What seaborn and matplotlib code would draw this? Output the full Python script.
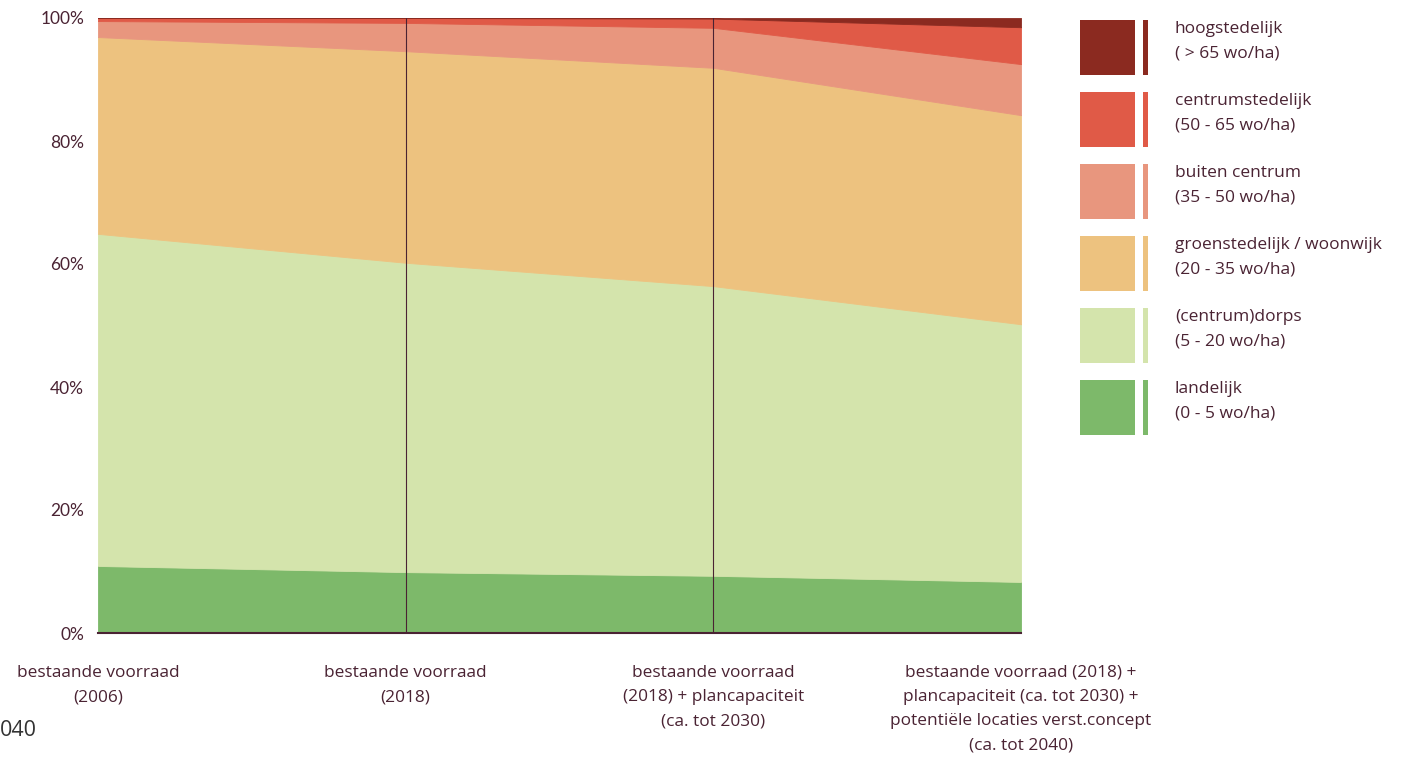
import matplotlib
matplotlib.use("Agg")
import matplotlib.pyplot as plt
import seaborn as sns
import pandas as pd
from matplotlib.patches import Rectangle

# scenario labels on the x axis
scenarios = [
    "bestaande voorraad\n(2006)",
    "bestaande voorraad\n(2018)",
    "bestaande voorraad\n(2018) + plancapaciteit\n(ca. tot 2030)",
    "bestaande voorraad (2018) +\nplancapaciteit (ca. tot 2030) +\npotentiële locaties verst.concept\n(ca. tot 2040)",
]

categories = ["landelijk", "(centrum)dorps", "groenstedelijk / woonwijk",
              "buiten centrum", "centrumstedelijk", "hoogstedelijk"]
ranges = ["(0 - 5 wo/ha)", "(5 - 20 wo/ha)", "(20 - 35 wo/ha)",
          "(35 - 50 wo/ha)", "(50 - 65 wo/ha)", "( > 65 wo/ha)"]

# share of dwellings (%) per density class
landelijk = [10.9, 9.9, 9.3, 8.3]
dorps = [54.0, 50.3, 47.1, 41.9]
groenstedelijk = [32.0, 34.4, 35.5, 34.0]
buiten_centrum = [2.6, 4.6, 6.5, 8.3]
centrumstedelijk = [0.5, 0.8, 1.5, 6.0]
hoogstedelijk = [0.0, 0.0, 0.1, 1.5]

colors = ["#7db96a", "#d4e4ac", "#edc27f", "#e8967e", "#e05a47", "#8b2a20"]
text_color = "#4a2333"

df = pd.DataFrame({
    "landelijk": landelijk,
    "(centrum)dorps": dorps,
    "groenstedelijk / woonwijk": groenstedelijk,
    "buiten centrum": buiten_centrum,
    "centrumstedelijk": centrumstedelijk,
    "hoogstedelijk": hoogstedelijk,
})

sns.set_theme(style="white")
plt.rcParams["font.family"] = ["Open Sans", "DejaVu Sans"]

W, H = 1414, 759
fig = plt.figure(figsize=(W / 100, H / 100), dpi=100)
ax = fig.add_axes([98 / W, 1 - 633 / H, (1021 - 98) / W, (633 - 18) / H])

x = list(range(len(scenarios)))
ax.stackplot(x, *[df[c] for c in categories], colors=colors,
             linewidth=0.6, edgecolor="face")

for xv in x[1:-1]:
    ax.axvline(xv, color=text_color, lw=0.8)

ax.set_xlim(0, len(scenarios) - 1)
ax.set_ylim(0, 100)
for s in ["top", "left", "right"]:
    ax.spines[s].set_visible(False)
ax.spines["bottom"].set_color(text_color)
ax.spines["bottom"].set_linewidth(1.5)

ax.set_yticks(range(0, 101, 20))
ax.set_yticklabels([f"{v}%" for v in range(0, 101, 20)], fontsize=12.5,
                   color=text_color, family=["Lato", "DejaVu Sans"])
ax.set_xticks(x)
ax.set_xticklabels(scenarios, fontsize=12.4, color=text_color, linespacing=1.68)
ax.tick_params(axis="y", length=0, pad=10)
ax.tick_params(axis="x", length=0, pad=23)

# legend drawn in pixel coordinates
lax = fig.add_axes([0, 0, 1, 1])
lax.set_xlim(0, W)
lax.set_ylim(H, 0)
lax.axis("off")
lax.patch.set_alpha(0)
for i, (cat, rng, col) in enumerate(zip(categories[::-1], ranges[::-1], colors[::-1])):
    top = 20 + i * 72
    lax.add_patch(Rectangle((1080, top), 55, 55, color=col, lw=0))
    lax.add_patch(Rectangle((1143, top), 5, 55, color=col, lw=0))
    lax.text(1175, top + 9, cat, fontsize=12.5, color=text_color, va="center", ha="left")
    lax.text(1175, top + 33, rng, fontsize=12.5, color=text_color, va="center", ha="left")

# page fragment at the bottom-left
fig.text(0, 1 - 731 / H, "040", fontsize=15.5, color="#333333", ha="left", va="center")

fig.savefig("out.png", dpi=100)
